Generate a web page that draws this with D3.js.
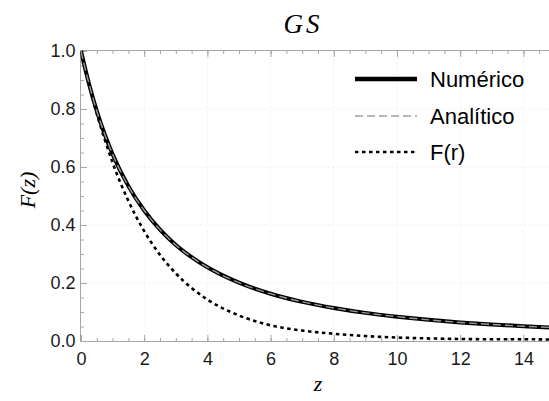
<!DOCTYPE html>
<html><head><meta charset="utf-8">
<script src="https://cdn.jsdelivr.net/npm/d3@7"></script>
<style>body{margin:0;background:#fff}svg{display:block}</style>
</head><body>
<svg id="c" width="549" height="401"></svg>
<script>
// ---- data ----
const zValues   = [0, 0.25, 0.5, 0.75, 1, 1.5, 2, 2.5, 3, 3.5, 4, 5, 6, 7, 8, 9, 10, 11, 12, 13, 14, 15];
const numerico  = [1, 0.888, 0.793, 0.713, 0.644, 0.534, 0.450, 0.384, 0.331, 0.289, 0.254, 0.201, 0.163, 0.135, 0.114, 0.097, 0.084, 0.073, 0.064, 0.057, 0.051, 0.046];
const analitico = [1, 0.888, 0.793, 0.713, 0.644, 0.534, 0.450, 0.384, 0.331, 0.289, 0.254, 0.201, 0.163, 0.135, 0.114, 0.097, 0.084, 0.073, 0.064, 0.057, 0.051, 0.046];
const fR        = [1, 0.886, 0.784, 0.695, 0.615, 0.483, 0.379, 0.297, 0.233, 0.183, 0.143, 0.088, 0.054, 0.036, 0.025, 0.017, 0.012, 0.009, 0.007, 0.006, 0.006, 0.005];
const xTicks = [0, 2, 4, 6, 8, 10, 12, 14];
const yTicks = [0, 0.2, 0.4, 0.6, 0.8, 1.0];
const legendLabels = ["Numérico", "Analítico", "F(r)"];
const titleText = "GS";
const xLabel = "z";
const yLabel = "F(z)";

// ---- layout ----
const svg = d3.select("#c");
const x = d3.scaleLinear().domain([0, 15]).range([81, 555]);
const y = d3.scaleLinear().domain([0, 1]).range([341, 51]);
const frameL = 80.5, frameT = 50.5, frameB = 341.5, frameR = 560;
const frameColor = "#a6a6a6";
const labelFont = "'Liberation Sans', Arial, sans-serif";
const serif = "'Liberation Serif', 'Times New Roman', serif";

// grid
const grid = svg.append("g").attr("stroke", "#e3e3e3").attr("stroke-width", 1).attr("stroke-dasharray", "1,3");
xTicks.filter(d => d > 0).forEach(d => grid.append("line").attr("x1", x(d)).attr("x2", x(d)).attr("y1", frameT).attr("y2", frameB));
yTicks.filter(d => d > 0 && d < 1).forEach(d => grid.append("line").attr("x1", frameL).attr("x2", frameR).attr("y1", y(d)).attr("y2", y(d)));

// axes (ticks inward)
const minorX = d3.range(0, 15.01, 0.5);
const minorY = d3.range(0, 1.001, 0.05);
function styleAxis(g) {
  g.select(".domain").remove();
  g.selectAll(".tick line").attr("stroke", frameColor);
  g.selectAll(".tick text").attr("fill", "#1a1a1a").style("font-family", labelFont).style("font-size", "18px");
}
svg.append("g").attr("transform", `translate(0,${frameB})`)
  .call(d3.axisBottom(x).tickValues(minorX).tickSize(-3.5).tickFormat("")).call(styleAxis);
svg.append("g").attr("transform", `translate(0,${frameB})`)
  .call(d3.axisBottom(x).tickValues(xTicks).tickSize(-6.5).tickPadding(11).tickFormat(d3.format("d"))).call(styleAxis);
svg.append("g").attr("transform", `translate(0,${frameT})`)
  .call(d3.axisTop(x).tickValues(minorX).tickSize(-3.5).tickFormat("")).call(styleAxis);
svg.append("g").attr("transform", `translate(0,${frameT})`)
  .call(d3.axisTop(x).tickValues(xTicks).tickSize(-6.5).tickFormat("")).call(styleAxis);
svg.append("g").attr("transform", `translate(${frameL},0)`)
  .call(d3.axisLeft(y).tickValues(minorY).tickSize(-3.5).tickFormat("")).call(styleAxis);
svg.append("g").attr("transform", `translate(${frameL},0)`)
  .call(d3.axisLeft(y).tickValues(yTicks).tickSize(-6.5).tickPadding(5).tickFormat(d3.format(".1f"))).call(styleAxis);

// frame
svg.append("path").attr("d", `M${frameR},${frameT}H${frameL}V${frameB}H${frameR}`)
  .attr("fill", "none").attr("stroke", frameColor).attr("stroke-width", 1);

// curves
svg.append("clipPath").attr("id", "pc").append("rect")
  .attr("x", frameL).attr("y", frameT - 4).attr("width", frameR - frameL).attr("height", frameB - frameT + 4);
const line = arr => d3.line().x((d, i) => x(zValues[i])).y(d => y(d)).curve(d3.curveMonotoneX)(arr);
const cg = svg.append("g").attr("clip-path", "url(#pc)");
cg.append("path").attr("d", line(fR)).attr("fill", "none").attr("stroke", "#000").attr("stroke-width", 2.6).attr("stroke-dasharray", "3.5,3.5");
cg.append("path").attr("d", line(numerico)).attr("fill", "none").attr("stroke", "#000").attr("stroke-width", 4);
cg.append("path").attr("d", line(analitico)).attr("fill", "none").attr("stroke", "#9a9a9a").attr("stroke-width", 1.4).attr("stroke-dasharray", "8,4");

// legend
const legY = [79, 116, 152];
const styles = [
  {stroke: "#000", w: 4.5, dash: null},
  {stroke: "#a0a0a0", w: 1.5, dash: "8,4"},
  {stroke: "#000", w: 2.6, dash: "3.5,3.5"}
];
legendLabels.forEach((t, i) => {
  svg.append("line").attr("x1", 355).attr("x2", 417).attr("y1", legY[i]).attr("y2", legY[i])
    .attr("stroke", styles[i].stroke).attr("stroke-width", styles[i].w).attr("stroke-dasharray", styles[i].dash);
  svg.append("text").attr("x", 430).attr("y", legY[i]).attr("dy", "0.36em").text(t)
    .style("font-family", labelFont).style("font-size", "22px").attr("fill", "#000");
});

// titles
svg.append("text").attr("x", 303).attr("y", 33).attr("text-anchor", "middle").text(titleText)
  .style("font-family", serif).style("font-style", "italic").style("font-size", "27px").style("letter-spacing", "3px");
svg.append("text").attr("x", 318).attr("y", 391).attr("text-anchor", "middle").text(xLabel)
  .style("font-family", serif).style("font-style", "italic").style("font-size", "22px");
svg.append("text").attr("transform", "translate(35,190) rotate(-90)").attr("text-anchor", "middle").text(yLabel)
  .style("font-family", serif).style("font-style", "italic").style("font-size", "22px");
</script>
</body></html>
